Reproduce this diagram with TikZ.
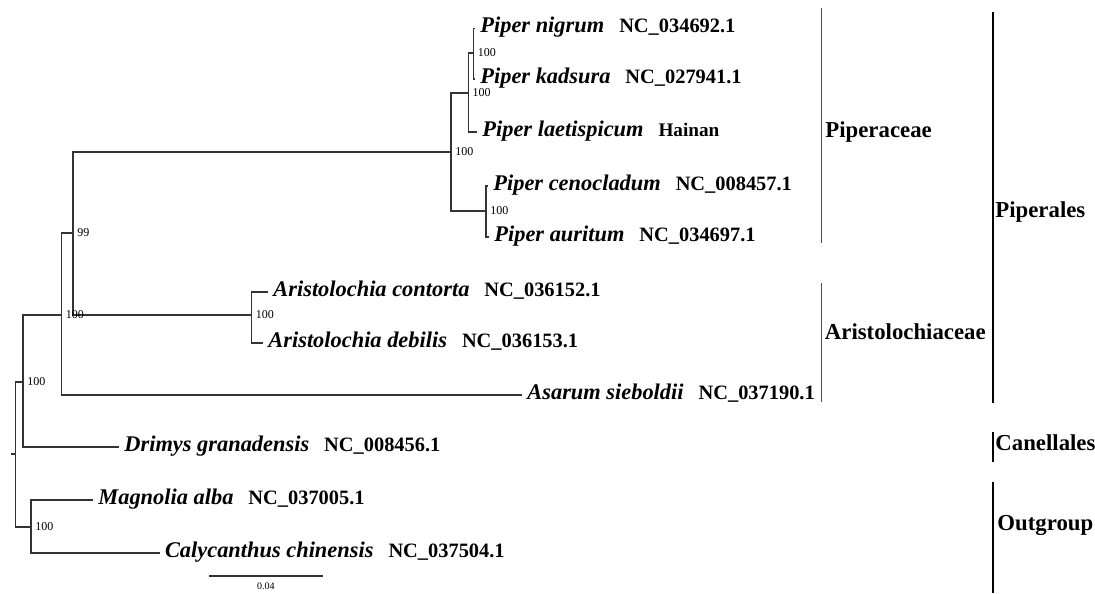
\documentclass[tikz,border=0pt]{standalone}
\usepackage{fontspec}
\setmainfont{Liberation Serif}
\usetikzlibrary{positioning}

\newcommand{\taxon}[2]{{\fontsize{11.2}{13}\selectfont\itshape #1}\hspace{7.5pt}#2}

\begin{document}
\begin{tikzpicture}
                [
                    x=0.5pt,y=-0.5pt,
                    branch/.style={draw=black!80,line width=0.6pt},
                    tip/.style={anchor=west,inner xsep=2.5pt,inner ysep=0pt,text height=0.7em,text depth=0.25em,font=\fontsize{10.2}{12}\selectfont\bfseries},
                    boot/.style={anchor=west,inner sep=0pt,xshift=2pt,font=\fontsize{6}{7}\selectfont},
                    clade/.style={draw=black!70,line width=0.75pt},
                    order/.style={draw=black,line width=1pt},
                    group/.style={anchor=west,inner sep=0pt,font=\fontsize{11.4}{13}\selectfont\bfseries},
                ]
                \useasboundingbox (0,0) rectangle (1095,593);
                \coordinate (stub) at (10.5,454);
                \coordinate (root) at (15.5,454);
                \coordinate (nA) at (23,382);
                \coordinate (nB) at (61.5,315);
                \coordinate (nC) at (73,233);
                \coordinate (nPip) at (451,152);
                \coordinate (nP1) at (468.3,93);
                \coordinate (nP2) at (473.5,53);
                \coordinate (nP3) at (486,211);
                \coordinate (nAri) at (251.5,315);
                \coordinate (nOut) at (31,527);

                \node[tip] (nig) at (475,28.5) {\taxon{Piper nigrum}{NC\_034692.1}};
                \node[tip] (kad) at (475,79) {\taxon{Piper kadsura}{NC\_027941.1}};
                \node[tip] (lae) at (477,132) {\taxon{Piper laetispicum}{\fontsize{9.6}{11}\selectfont Hainan}};
                \node[tip] (cen) at (488,186) {\taxon{Piper cenocladum}{NC\_008457.1}};
                \node[tip] (aur) at (489,237) {\taxon{Piper auritum}{NC\_034697.1}};
                \node[tip] (con) at (268,292) {\taxon{Aristolochia contorta}{NC\_036152.1}};
                \node[tip] (deb) at (263,343) {\taxon{Aristolochia debilis}{NC\_036153.1}};
                \node[tip] (asa) at (522,395) {\taxon{Asarum sieboldii}{NC\_037190.1}};
                \node[tip] (dri) at (119,447) {\taxon{Drimys granadensis}{NC\_008456.1}};
                \node[tip] (mag) at (93,500) {\taxon{Magnolia alba}{NC\_037005.1}};
                \node[tip] (cal) at (159.6,553) {\taxon{Calycanthus chinensis}{NC\_037504.1}};

                \draw[branch] (stub) -- (root);
                \draw[branch] (root) |- (nA);
                \draw[branch] (root) |- (nOut);
                \draw[branch] (nA) |- (nB);
                \draw[branch] (nA) |- (dri.west);
                \draw[branch] (nB) |- (nC);
                \draw[branch] (nB) |- (asa.west);
                \draw[branch] (nC) |- (nPip);
                \draw[branch] (nC) |- (nAri);
                \draw[branch] (nPip) |- (nP1);
                \draw[branch] (nPip) |- (nP3);
                \draw[branch] (nP1) |- (nP2);
                \draw[branch] (nP1) |- (lae.west);
                \draw[branch] (nP2) |- (nig.west);
                \draw[branch] (nP2) |- (kad.west);
                \draw[branch] (nP3) |- (cen.west);
                \draw[branch] (nP3) |- (aur.west);
                \draw[branch] (nAri) |- (con.west);
                \draw[branch] (nAri) |- (deb.west);
                \draw[branch] (nOut) |- (mag.west);
                \draw[branch] (nOut) |- (cal.west);

                \node[boot] (bA) at (nA) {100};
                \node[boot] (bB) at (nB) {100};
                \node[boot] (bC) at (nC) {99};
                \node[boot] (bPip) at (nPip) {100};
                \node[boot] (bP1) at (nP1) {100};
                \node[boot] (bP2) at (nP2) {100};
                \node[boot] (bP3) at (nP3) {100};
                \node[boot] (bAri) at (nAri) {100};
                \node[boot] (bOut) at (nOut) {100};

                \coordinate (sbl) at (209,576);
                \coordinate (sbr) at (322.7,576);
                \draw[branch] (sbl) -- (sbr) node[midway,below=3pt,inner sep=0pt,font=\fontsize{5}{6}\selectfont] (sbt) {0.04};

                \coordinate (pipT) at (821.7,8.3);
                \coordinate (pipB) at (821.7,243.3);
                \coordinate (ariT) at (821.7,283);
                \coordinate (ariB) at (821.7,402);
                \coordinate (plsT) at (992.5,12.3);
                \coordinate (plsB) at (992.5,403);
                \coordinate (canT) at (992.5,431.7);
                \coordinate (canB) at (992.5,461.7);
                \coordinate (outT) at (992.5,481.7);
                \coordinate (outB) at (992.5,593);
                \draw[clade] (pipT) -- (pipB);
                \draw[clade] (ariT) -- (ariB);
                \draw[order] (plsT) -- (plsB);
                \draw[order] (canT) -- (canB);
                \draw[order] (outT) -- (outB);
                \node[group] (gPip) at (825,131.7) {Piperaceae};
                \node[group] (gAri) at (824.5,331.7) {Aristolochiaceae};
                \node[group] (gPls) at (995,211.7) {Piperales};
                \node[group] (gCan) at (995,443) {Canellales};
                \node[group] (gOut) at (997,525) {Outgroup};
            \end{tikzpicture}
\end{document}
